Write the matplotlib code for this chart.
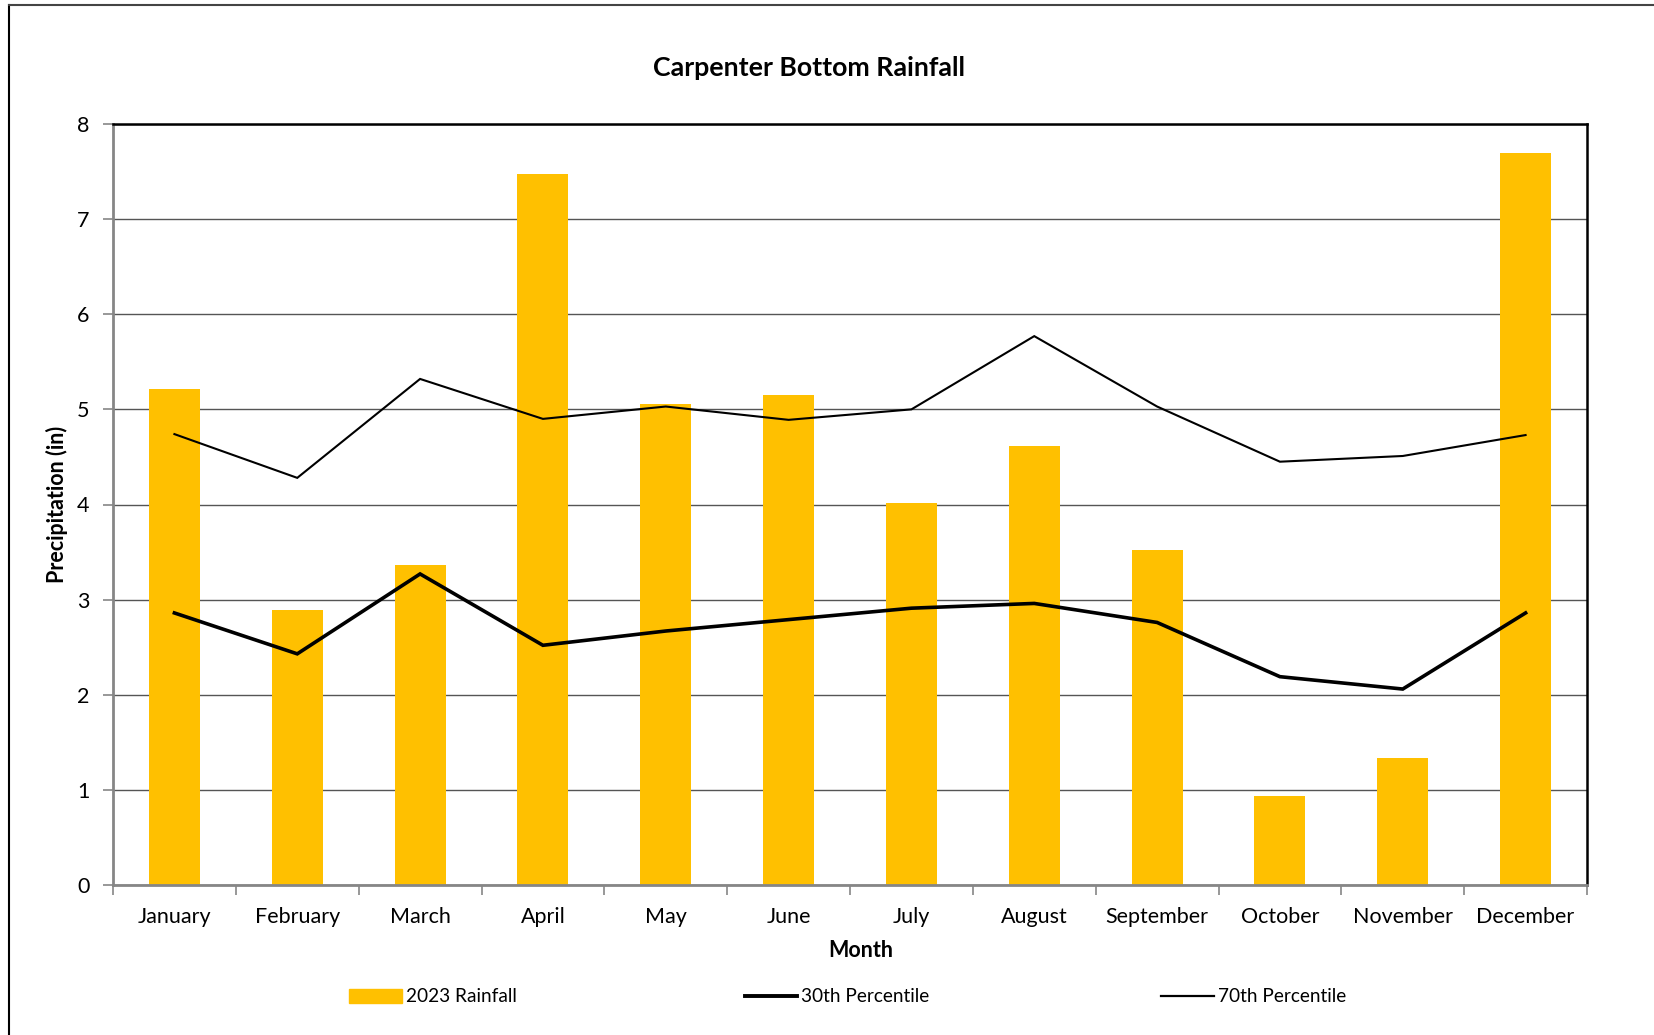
import numpy as np
import matplotlib
matplotlib.use("Agg")
import matplotlib.pyplot as plt
from matplotlib.lines import Line2D

# monthly rainfall and percentile bands (inches)
months = ["January", "February", "March", "April", "May", "June",
          "July", "August", "September", "October", "November", "December"]
rain_2023 = [5.21, 2.89, 3.36, 7.47, 5.06, 5.15, 4.02, 4.62, 3.52, 0.94, 1.33, 7.70]
p30 = [2.86, 2.43, 3.27, 2.52, 2.67, 2.79, 2.91, 2.96, 2.76, 2.19, 2.06, 2.86]
p70 = [4.74, 4.28, 5.32, 4.90, 5.03, 4.89, 5.00, 5.77, 5.03, 4.45, 4.51, 4.73]
yticks = [0, 1, 2, 3, 4, 5, 6, 7, 8]

plt.rcParams['font.family'] = ['Lato', 'DejaVu Sans']

W, H = 1654, 1035
fig = plt.figure(figsize=(W / 100, H / 100), dpi=100)
ax = fig.add_axes([113 / W, 1 - 885 / H, (1587 - 113) / W, (885 - 124) / H])

x = np.arange(len(months))
ax.bar(x, rain_2023, width=0.415, color="#FFC000", zorder=2)
ax.plot(x, p30, color="black", lw=2.6, zorder=3, solid_joinstyle="miter")
ax.plot(x, p70, color="black", lw=1.5, zorder=3, solid_joinstyle="miter")

ax.set_xlim(-0.5, len(months) - 0.5)
ax.set_ylim(0, 8)
ax.set_yticks(yticks)
ax.set_yticklabels([str(v) for v in yticks], fontsize=15.5)
ax.yaxis.grid(True, color="#555555", lw=1.0, zorder=1)
ax.set_axisbelow(True)

# category labels between boundary ticks
ax.set_xticks(x)
ax.set_xticklabels(months, fontsize=15.5)
ax.tick_params(axis="x", length=0, pad=16)
ax.set_xticks(np.arange(-0.5, len(months)), minor=True)
ax.tick_params(axis="x", which="minor", length=7, color="#868686", width=1.2)
ax.tick_params(axis="y", length=7, color="#868686", width=1.2, pad=10)

for s in ["left", "bottom"]:
    ax.spines[s].set_color("#868686")
    ax.spines[s].set_linewidth(2)
for s in ["top", "right"]:
    ax.spines[s].set_color("black")
    ax.spines[s].set_linewidth(1.8)

ax.set_xlabel("Month", fontsize=15.5, fontweight="bold", va="center")
ax.xaxis.set_label_coords(0.507, -0.0867)
ax.set_ylabel("Precipitation (in)", fontsize=15.5, fontweight="bold", va="center")
ax.yaxis.set_label_coords(-0.038, 0.5)

fig.text(809 / W, 1 - 68 / H, "Carpenter Bottom Rainfall", fontsize=19.3,
         fontweight="bold", ha="center", va="center")

# legend row along the bottom
ly = 1 - 996 / H
fig.patches.append(plt.Rectangle((349 / W, ly - 7 / H), 53 / W, 14 / H,
                                 transform=fig.transFigure, color="#FFC000"))
fig.text(406 / W, ly, "2023 Rainfall", fontsize=13.7, va="center")
fig.add_artist(Line2D([745 / W, 797 / W], [ly, ly], color="black", lw=2.8,
                      transform=fig.transFigure))
fig.text(801 / W, ly, "30th Percentile", fontsize=13.7, va="center")
fig.add_artist(Line2D([1161 / W, 1214 / W], [ly, ly], color="black", lw=1.6,
                      transform=fig.transFigure))
fig.text(1218 / W, ly, "70th Percentile", fontsize=13.7, va="center")

# chart frame (left and top edges in view)
fig.add_artist(Line2D([9 / W, 9 / W], [0, 1 - 5 / H], color="black", lw=1.5,
                      transform=fig.transFigure))
fig.add_artist(Line2D([9 / W, 1], [1 - 5 / H, 1 - 5 / H], color="#444444", lw=1.5,
                      transform=fig.transFigure))

fig.savefig("out.png", dpi=100)
